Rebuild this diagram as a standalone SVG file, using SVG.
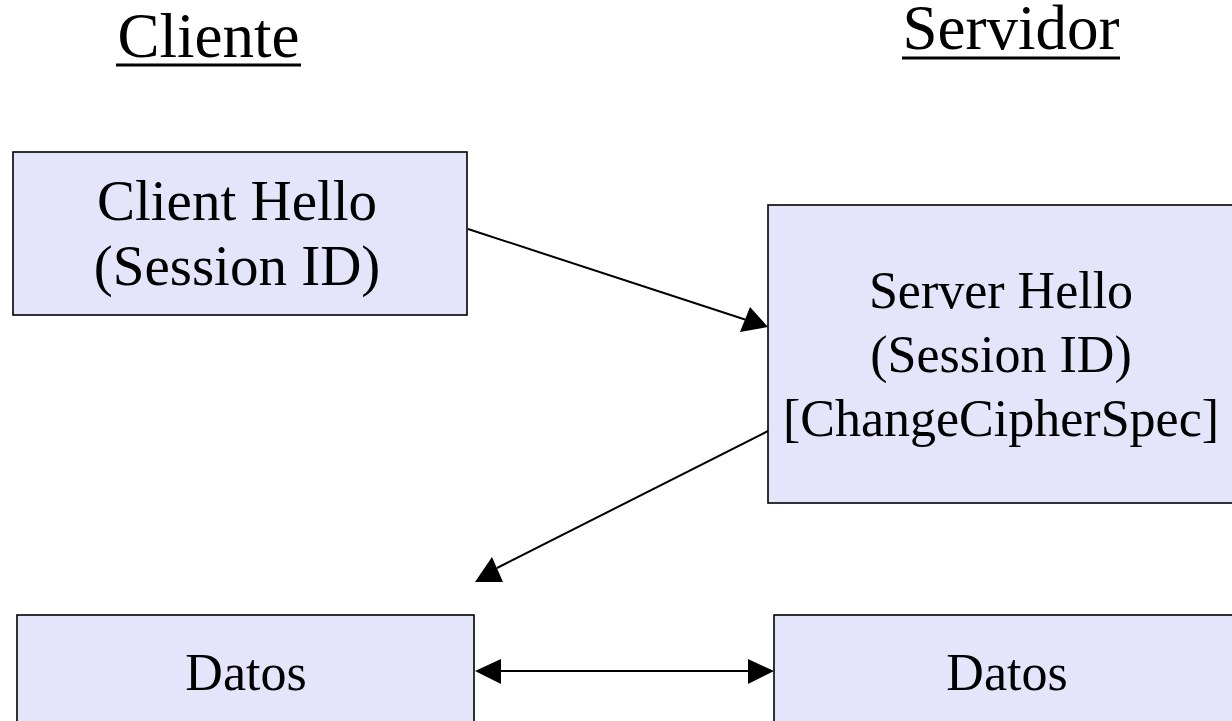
<svg xmlns="http://www.w3.org/2000/svg" width="1232" height="721" viewBox="0 0 1232 721">
  <style>
    .box { fill: #E4E4FA; stroke: #000; stroke-width: 1.6; }
    .lbl { font-family: "Liberation Serif", "Times New Roman", serif; fill: #000; text-anchor: middle; }
    .title { font-size: 63px; }
    .node { font-size: 57px; }
    .node2 { font-size: 52px; }
    .wire { stroke: #000; stroke-width: 2; fill: none; }
    .head { fill: #000; }
  </style>
  <rect width="1232" height="721" fill="#fff"/>

  <!-- column headings -->
  <g id="heading-cliente">
    <text class="lbl title" x="208.5" y="57">Cliente</text>
    <line x1="116" y1="65" x2="301" y2="65" stroke="#000" stroke-width="3"/>
  </g>
  <g id="heading-servidor">
    <text class="lbl title" x="1011" y="49">Servidor</text>
    <line x1="902" y1="58" x2="1120" y2="58" stroke="#000" stroke-width="3"/>
  </g>

  <!-- nodes -->
  <g id="client-hello">
    <rect class="box" x="13" y="152" width="454" height="163"/>
    <text class="lbl node" x="237" y="220">Client Hello</text>
    <text class="lbl node" x="237" y="285">(Session ID)</text>
  </g>
  <g id="server-hello">
    <rect class="box" x="768" y="205" width="470" height="298"/>
    <text class="lbl node2" x="1001" y="308">Server Hello</text>
    <text class="lbl node2" x="1001" y="372">(Session ID)</text>
    <text class="lbl node2" x="1001" y="436">[ChangeCipherSpec]</text>
  </g>
  <g id="datos-cliente">
    <rect class="box" x="17" y="615" width="457" height="120"/>
    <text class="lbl node2" x="246" y="690">Datos</text>
  </g>
  <g id="datos-servidor">
    <rect class="box" x="774" y="615" width="470" height="120"/>
    <text class="lbl node2" x="1007" y="690">Datos</text>
  </g>

  <!-- connectors -->
  <g id="connectors">
    <line class="wire" x1="468" y1="229" x2="745" y2="319.5"/>
    <polygon class="head" points="740,332 750,307 768,327"/>

    <line class="wire" x1="768" y1="431" x2="497" y2="568"/>
    <polygon class="head" points="475,582 503,582 492,557"/>

    <line class="wire" x1="500" y1="671" x2="749" y2="671" stroke-width="3"/>
    <polygon class="head" points="475,671 501,659 501,684"/>
    <polygon class="head" points="774,671 748,659 748,684"/>
  </g>
</svg>
